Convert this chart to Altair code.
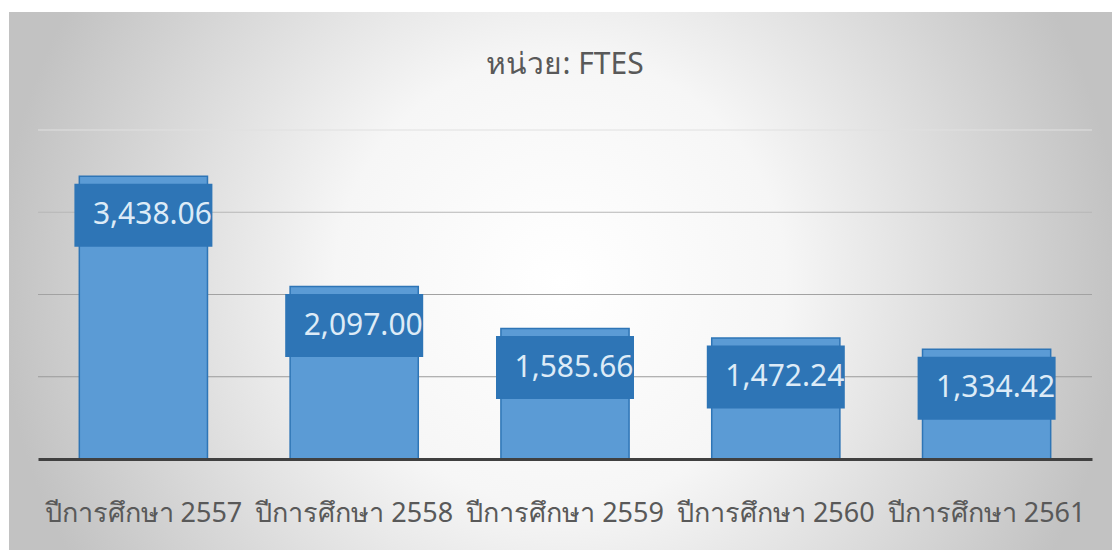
import altair as alt
import pandas as pd

# ---- data ----
years = ["ปีการศึกษา 2557", "ปีการศึกษา 2558", "ปีการศึกษา 2559",
         "ปีการศึกษา 2560", "ปีการศึกษา 2561"]
values = [3438.06, 2097.00, 1585.66, 1472.24, 1334.42]
grid_values = [1000, 2000, 3000, 4000]
grid_colors = ["#9a9a9a", "#a2a2a2", "#b6b6b6", "#e0e0e0"]
title_text = "หน่วย: FTES"

FONT = "Noto Sans"
W, H = 1054, 329

df = pd.DataFrame({"year": years, "value": values})
grid_df = pd.DataFrame({"g": grid_values, "c": grid_colors})

yscale = alt.Scale(domain=[0, 4000], nice=False, zero=True)
xenc = alt.X(
    "year:N", sort=years,
    scale=alt.Scale(paddingInner=0.392, paddingOuter=0.196),
    axis=alt.Axis(title=None, labelAngle=0, labelFontSize=27, labelColor="#595959",
                  labelFont=FONT, ticks=False, domainColor="#404040", domainWidth=3,
                  labelBaseline="alphabetic", labelPadding=62, labelLimit=0,
                  zindex=1, grid=False),
)
yenc = alt.Y("value:Q", scale=yscale, axis=None)

bg = alt.Chart(pd.DataFrame({"k": [0]})).mark_rect(
    fill={"gradient": "radial", "x1": 0.5, "y1": 0.5, "r1": 0,
          "x2": 0.5, "y2": 0.5, "r2": 0.51,
          "stops": [{"offset": 0, "color": "#ffffff"},
                    {"offset": 0.4, "color": "#f6f6f6"},
                    {"offset": 1, "color": "#c2c2c2"}]}
).encode(x=alt.value(-29), x2=alt.value(1074), y=alt.value(-118), y2=alt.value(420))

title = alt.Chart(pd.DataFrame({"t": [title_text]})).mark_text(
    font=FONT, fontSize=30, color="#595959", align="center", baseline="alphabetic",
).encode(text="t:N", x=alt.value(527), y=alt.value(-56))

grid = alt.Chart(grid_df).mark_rule(strokeWidth=1).encode(
    y=alt.Y("g:Q", scale=yscale, axis=None),
    color=alt.Color("c:N", scale=None),
)

base = alt.Chart(df)
bars = base.mark_bar(color="#5B9BD5", stroke="#2E75B6", strokeWidth=1.5).encode(x=xenc, y=yenc)
boxes = base.mark_point(
    shape="M-1,-0.4565L1,-0.4565L1,0.4565L-1,0.4565Z", size=19044,
    filled=True, color="#2E75B6", opacity=1, strokeWidth=0, yOffset=39,
).encode(x=xenc, y=yenc)
labels = base.mark_text(
    font=FONT, fontSize=30, color="#DDEBF7", dx=9, dy=39, baseline="middle", align="center",
).encode(x=xenc, y=yenc, text=alt.Text("value:Q", format=",.2f"))

chart = alt.layer(bg, title, grid, bars, boxes, labels).properties(
    width=W, height=H,
).configure(
    autosize=alt.AutoSizeParams(type="none"),
    padding={"left": 38, "top": 130, "right": 20, "bottom": 91},
    background="white",
).configure_view(stroke=None)

chart.save("out.html", embed_options={"renderer": "svg", "actions": False})
